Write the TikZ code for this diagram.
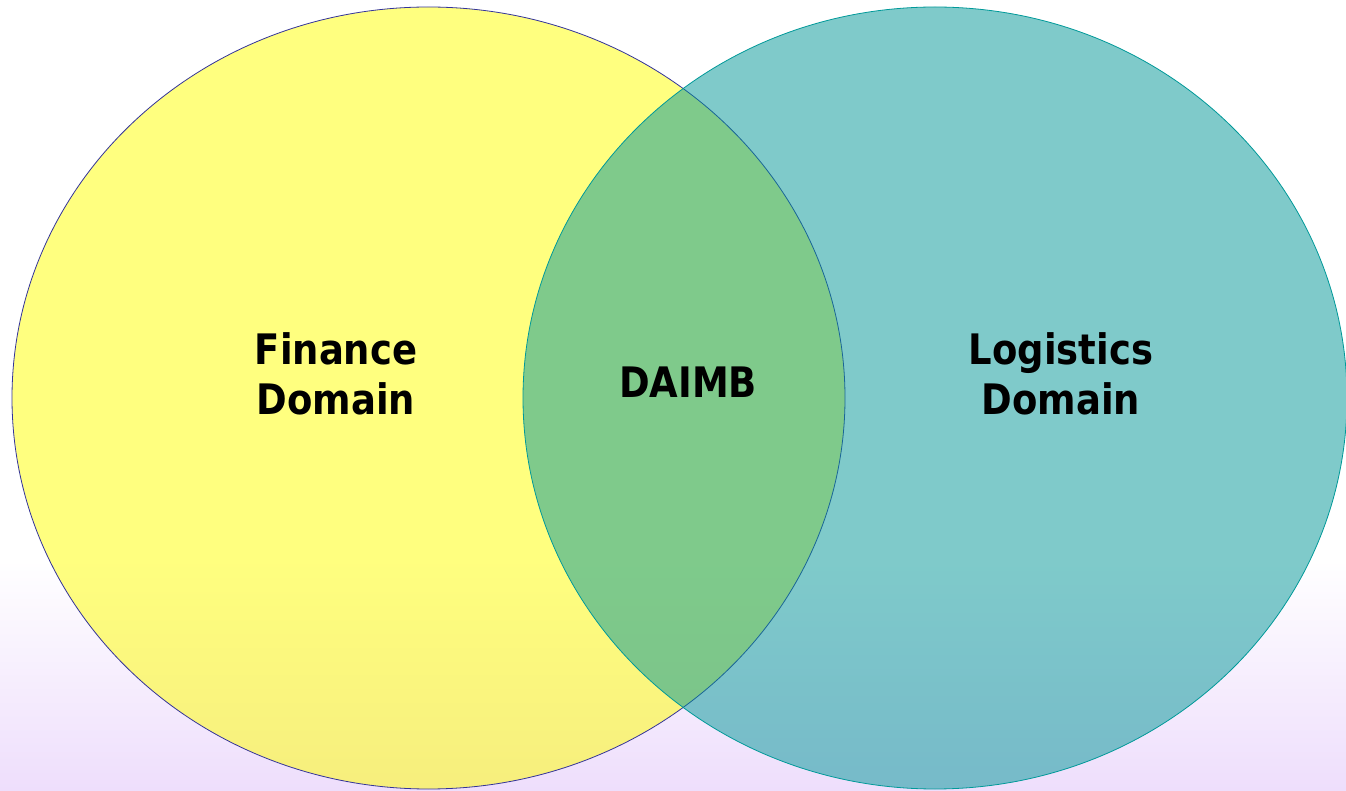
\documentclass[tikz,border=0pt]{standalone}
\usepackage{fontspec}
\setmainfont{DejaVu Sans}[FakeStretch=0.88]
\begin{document}
\begin{tikzpicture}[x=1pt,y=1pt,
  lbl/.style={font=\fontsize{42}{50}\selectfont\bfseries, text=black, align=center, inner sep=0pt},
  setA/.style={draw=setAline, line width=0.8pt, fill=setAfill, fill opacity=0.5},
  setB/.style={draw=setBline, line width=0.8pt, fill=setBfill, fill opacity=0.5}]
\definecolor{setAfill}{RGB}{255,255,0}
\definecolor{setAline}{RGB}{51,51,153}
\definecolor{setBfill}{RGB}{0,151,151}
\definecolor{setBline}{RGB}{0,153,153}
\definecolor{bgbot}{RGB}{238,222,252}
\useasboundingbox (0,0) rectangle (1346,790);
\fill[white] (0,0) rectangle (1346,790);
\shade[top color=white, bottom color=bgbot] (0,0) rectangle (1346,230);
\path[setA] (428.5,392) ellipse [x radius=416.5, y radius=391];
\path[setB] (935,392) ellipse [x radius=412, y radius=391];
\node[lbl] (fin) at (336,416) {Finance\\Domain};
\node[lbl] (dai) at (688,408) {DAIMB};
\node[lbl] (log) at (1061,416) {Logistics\\Domain};
\end{tikzpicture}
\end{document}
